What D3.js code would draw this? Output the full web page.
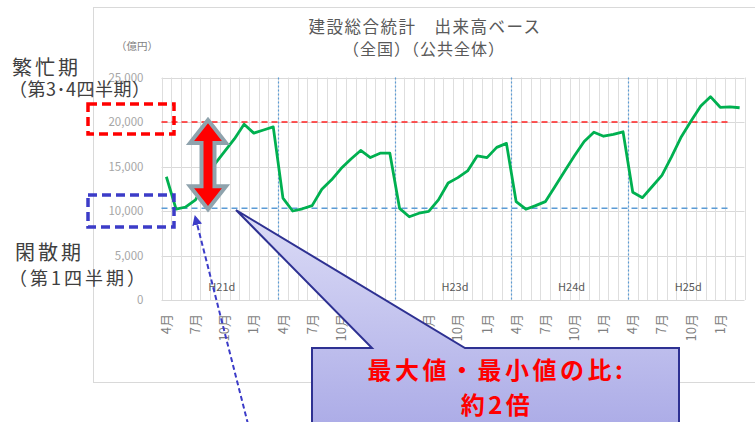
<!DOCTYPE html>
<html>
<head>
<meta charset="utf-8">
<script src="https://cdn.jsdelivr.net/npm/d3@7"></script>
<style>
  html, body { margin: 0; padding: 0; background: #fff; }
  svg { display: block; font-family: "Noto Sans CJK JP", "Noto Sans", sans-serif; }
</style>
</head>
<body>
<svg id="chart" width="755" height="422"></svg>
<script>
// 建設総合統計 出来高ベース（全国・公共全体）月次, 億円
const fiscalYears = ["H21d", "H22d", "H23d", "H24d", "H25d"];
const monthNames = ["4月", "5月", "6月", "7月", "8月", "9月", "10月", "11月", "12月", "1月", "2月", "3月"];
const tickMonths = ["4月", "7月", "10月", "1月"];
const yearLabels = ["H21d", "", "H23d", "H24d", "H25d"];

const valuesH21 = [13850, 10200, 10450, 11250, 13300, 15300, 16700, 18100, 19750, 18750, 19100, 19450];
const valuesH22 = [11450, 10000, 10250, 10600, 12450, 13500, 14800, 15850, 16800, 16000, 16500, 16500];
const valuesH23 = [10300, 9350, 9750, 9950, 11250, 13150, 13750, 14500, 16200, 16000, 17150, 17600];
const valuesH24 = [11050, 10200, 10600, 11050, 12750, 14500, 16200, 17800, 18850, 18400, 18600, 18900];
const valuesH25 = [12100, 11500, 12750, 14000, 16100, 18350, 20100, 21800, 22850, 21650, 21700, 21600];

const yTicks = [0, 5000, 10000, 15000, 20000, 25000];
const peakLevel = 20000;     // 繁忙期の目安
const offPeakLevel = 10300;  // 閑散期の目安

const series = [valuesH21, valuesH22, valuesH23, valuesH24, valuesH25];
const rows = [];
fiscalYears.forEach((fy, yi) => {
  monthNames.forEach((m, mi) => {
    rows.push({ key: fy + "-" + m, fy, month: m, value: series[yi][mi] });
  });
});

const svg = d3.select("#chart");

// outer chart frame
svg.append("rect")
  .attr("x", 93.5).attr("y", 7.5).attr("width", 700).attr("height", 375)
  .attr("fill", "#fff").attr("stroke", "#d9d9d9").attr("stroke-width", 1);

const plot = { left: 161.5, right: 744.5, top: 77.5, bottom: 300 };

const x = d3.scaleBand()
  .domain(rows.map(d => d.key))
  .range([plot.left, plot.right])
  .padding(0);

const y = d3.scaleLinear()
  .domain([0, 25000])
  .range([plot.bottom, plot.top]);

// horizontal gridlines
svg.append("g")
  .selectAll("line")
  .data(yTicks)
  .join("line")
  .attr("x1", plot.left).attr("x2", plot.right)
  .attr("y1", d => Math.round(y(d)) + 0.5).attr("y2", d => Math.round(y(d)) + 0.5)
  .attr("stroke", "#d9d9d9").attr("stroke-width", 1);

// vertical gridlines at each month boundary
const boundaries = rows.map(d => x(d.key)).concat([plot.right]);
svg.append("g")
  .selectAll("line")
  .data(boundaries)
  .join("line")
  .attr("x1", d => Math.round(d) + 0.5).attr("x2", d => Math.round(d) + 0.5)
  .attr("y1", plot.top).attr("y2", plot.bottom)
  .attr("stroke", "#dedede").attr("stroke-width", 1);

// fiscal-year separators
svg.append("g")
  .selectAll("line")
  .data(fiscalYears.slice(1))
  .join("line")
  .attr("x1", fy => Math.round(x(fy + "-4月")) + 0.5)
  .attr("x2", fy => Math.round(x(fy + "-4月")) + 0.5)
  .attr("y1", plot.top).attr("y2", plot.bottom)
  .attr("stroke", "#5b9bd5").attr("stroke-width", 1.2)
  .attr("stroke-dasharray", "2,2");

// y axis labels
const yAxis = d3.axisLeft(y).tickValues(yTicks).tickSize(0).tickPadding(0)
  .tickFormat(d3.format(","));
svg.append("g")
  .attr("transform", `translate(${plot.left - 18},0)`)
  .call(yAxis)
  .call(g => g.select(".domain").remove())
  .call(g => g.selectAll("text")
    .attr("fill", "#a6a6a6")
    .attr("font-size", 11.5)
    .attr("font-family", "'Noto Sans CJK JP', sans-serif"));

svg.append("text")
  .attr("x", 137).attr("y", 50)
  .attr("text-anchor", "middle")
  .attr("font-size", 10.5).attr("fill", "#7f7f7f")
  .text("（億円）");

// x axis month labels (rotated)
const xAxis = d3.axisBottom(x)
  .tickValues(rows.filter(d => tickMonths.includes(d.month)).map(d => d.key))
  .tickSize(0)
  .tickFormat(k => k.split("-")[1]);
svg.append("g")
  .attr("transform", `translate(0,${plot.bottom + 14})`)
  .call(xAxis)
  .call(g => g.select(".domain").remove())
  .call(g => g.selectAll("text")
    .attr("transform", "rotate(-90)")
    .attr("text-anchor", "end")
    .attr("x", 0).attr("y", 0).attr("dy", "0.35em")
    .attr("fill", "#7f7f7f")
    .attr("font-size", 13)
    .attr("font-family", "'Noto Sans CJK JP', sans-serif"));

// fiscal year labels inside the plot
svg.append("g")
  .selectAll("text")
  .data(fiscalYears.map((fy, i) => ({ fy, label: yearLabels[i] })).filter(d => d.label))
  .join("text")
  .attr("x", d => (x(d.fy + "-4月") + x(d.fy + "-3月") + x.bandwidth()) / 2 + 2)
  .attr("y", 291)
  .attr("text-anchor", "middle")
  .attr("font-size", 11).attr("fill", "#595959")
  .text(d => d.label);

// reference levels
const refEnd = x(rows[58].key) + 3;
svg.append("line")
  .attr("x1", plot.left).attr("x2", refEnd)
  .attr("y1", y(peakLevel)).attr("y2", y(peakLevel))
  .attr("stroke", "#ff2020").attr("stroke-width", 1.5)
  .attr("stroke-dasharray", "6,4");
svg.append("line")
  .attr("x1", plot.left).attr("x2", refEnd)
  .attr("y1", y(offPeakLevel)).attr("y2", y(offPeakLevel))
  .attr("stroke", "#5b9bd5").attr("stroke-width", 1.5)
  .attr("stroke-dasharray", "6,4");

// data line
const line = d3.line()
  .x(d => x(d.key) + x.bandwidth() / 2)
  .y(d => y(d.value));
svg.append("path")
  .datum(rows)
  .attr("d", line)
  .attr("fill", "none")
  .attr("stroke", "#00b050")
  .attr("stroke-width", 2.8)
  .attr("stroke-linejoin", "round");

// title
svg.append("text")
  .attr("x", 425).attr("y", 33)
  .attr("text-anchor", "middle")
  .attr("font-size", 16.5).attr("fill", "#595959")
  .attr("letter-spacing", 1.5)
  .text("建設総合統計　出来高ベース");
svg.append("text")
  .attr("x", 424).attr("y", 55)
  .attr("text-anchor", "middle")
  .attr("font-size", 16).attr("fill", "#595959")
  .attr("letter-spacing", 1)
  .text("（全国）（公共全体）");

// season annotations
const note = svg.append("g").attr("fill", "#404040");
note.append("text").attr("x", 12).attr("y", 75).attr("font-size", 20).attr("letter-spacing", 3).text("繁忙期");
note.append("text").attr("x", 9).attr("y", 96).attr("font-size", 18).attr("letter-spacing", 0.5).text("（第3･4四半期）");
note.append("text").attr("x", 15).attr("y", 260).attr("font-size", 20).attr("letter-spacing", 3).text("閑散期");
note.append("text").attr("x", 9).attr("y", 285).attr("font-size", 18).attr("letter-spacing", 3).text("（第1四半期）");

// dashed boxes around the level tick labels
svg.append("rect")
  .attr("x", 88).attr("y", 104).attr("width", 86).attr("height", 30)
  .attr("fill", "none").attr("stroke", "#ff0000").attr("stroke-width", 3.5)
  .attr("stroke-dasharray", "9,5");
svg.append("rect")
  .attr("x", 88).attr("y", 195).attr("width", 86).attr("height", 32)
  .attr("fill", "none").attr("stroke", "#3c3cc8").attr("stroke-width", 3.5)
  .attr("stroke-dasharray", "9,5");

// double-headed arrow between the two levels
const ax = 208, aTop = y(peakLevel) - 2, aBot = y(offPeakLevel) + 1, hw = 18, sw = 6.5, hh = 23;
svg.append("polygon")
  .attr("points", [
    [ax, aTop], [ax + hw, aTop + hh], [ax + sw, aTop + hh], [ax + sw, aBot - hh],
    [ax + hw, aBot - hh], [ax, aBot], [ax - hw, aBot - hh], [ax - sw, aBot - hh],
    [ax - sw, aTop + hh], [ax - hw, aTop + hh]
  ].map(p => p.join(",")).join(" "))
  .attr("fill", "#ff0000").attr("stroke", "#8fa3ad").attr("stroke-width", 4)
  .attr("stroke-linejoin", "miter");

// dashed pointer to the off-peak level
const defs = svg.append("defs");
defs.append("marker")
  .attr("id", "tri").attr("viewBox", "0 0 10 10")
  .attr("refX", 9).attr("refY", 5)
  .attr("markerWidth", 5).attr("markerHeight", 5)
  .attr("orient", "auto-start-reverse")
  .append("path").attr("d", "M0,0 L10,5 L0,10 z").attr("fill", "#3c3cc8");
svg.append("line")
  .attr("x1", 248).attr("y1", 424).attr("x2", 195).attr("y2", 216)
  .attr("stroke", "#3c3cc8").attr("stroke-width", 2)
  .attr("stroke-dasharray", "5,3")
  .attr("marker-end", "url(#tri)");

// callout
const grad = defs.append("linearGradient")
  .attr("id", "calloutFill").attr("x1", 0).attr("y1", 0).attr("x2", 0).attr("y2", 1);
grad.append("stop").attr("offset", "0%").attr("stop-color", "#dcdcf6");
grad.append("stop").attr("offset", "100%").attr("stop-color", "#a9a9e6");

const tipX = 236, tipY = 210;
svg.append("path")
  .attr("d", `M312,348 L372,348 L${tipX},${tipY} L465,348 L679,348 L679,440 L312,440 Z`)
  .attr("fill", "url(#calloutFill)")
  .attr("stroke", "#2e3192").attr("stroke-width", 2)
  .attr("stroke-linejoin", "miter");

svg.append("text")
  .attr("x", 497).attr("y", 379)
  .attr("text-anchor", "middle")
  .attr("font-size", 24).attr("font-weight", "bold").attr("fill", "#ff0000")
  .attr("letter-spacing", 3.5)
  .text("最大値・最小値の比:");
svg.append("text")
  .attr("x", 497).attr("y", 414)
  .attr("text-anchor", "middle")
  .attr("font-size", 24).attr("font-weight", "bold").attr("fill", "#ff0000")
  .attr("letter-spacing", 3.5)
  .text("約2倍");
</script>
</body>
</html>
